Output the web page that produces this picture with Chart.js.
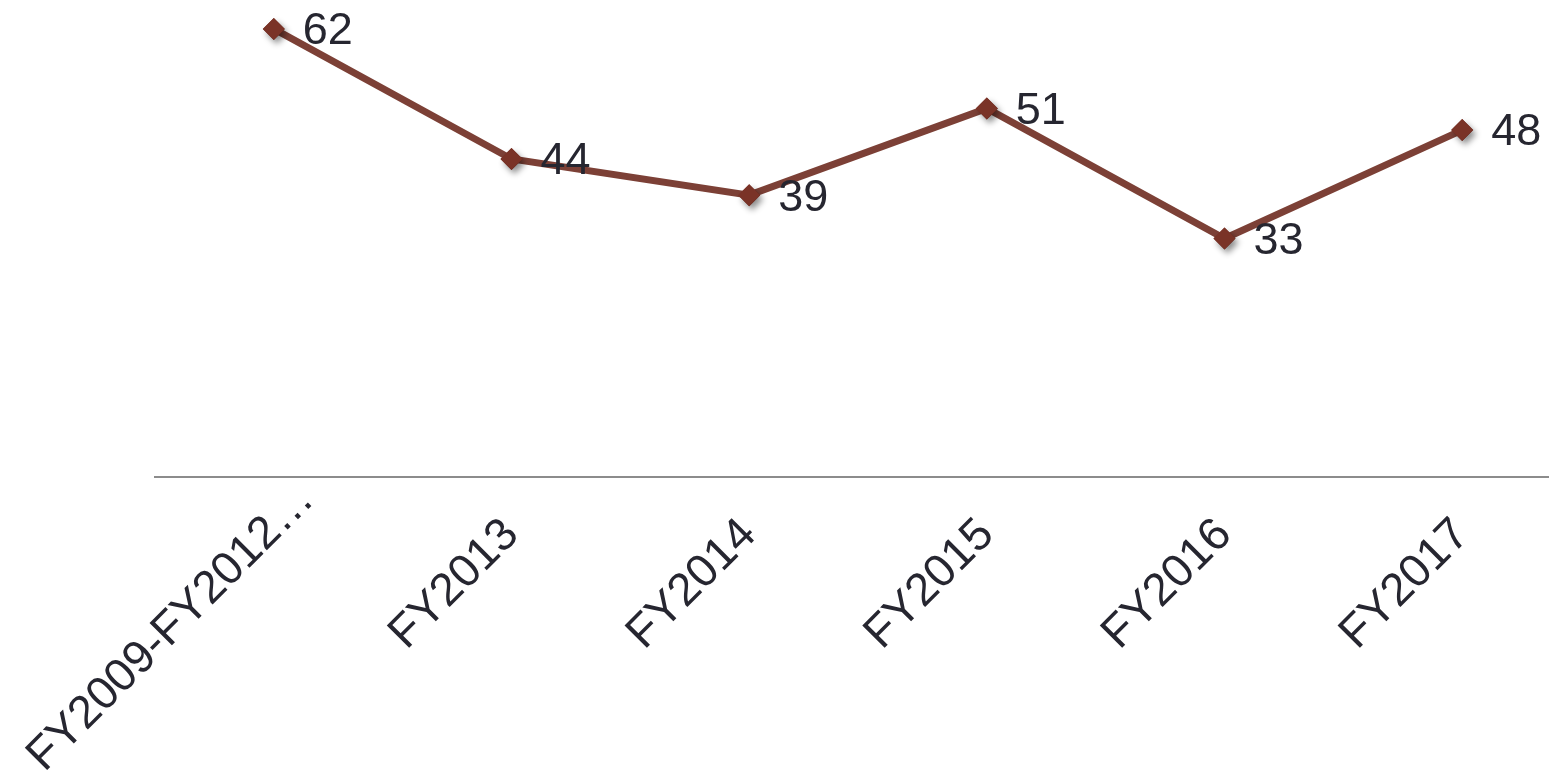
<!DOCTYPE html>
<html>
<head>
<meta charset="utf-8">
<script src="https://cdn.jsdelivr.net/npm/chart.js@4.4.0/dist/chart.umd.min.js"></script>
<style>
html,body{margin:0;padding:0;background:#fff;overflow:hidden;}
#wrap{position:relative;width:1600px;height:782px;}
</style>
</head>
<body>
<div id="wrap"><canvas id="trend"></canvas></div>
<script>
// ---- data ----
const years=['FY2009-FY2012…','FY2013','FY2014','FY2015','FY2016','FY2017'];
const counts=[62,44,39,51,33,48];

const LINE_COLOR='#7c4036', POINT_COLOR='#7a3327', TEXT_COLOR='#262630';
const FONT='"Liberation Sans", Arial, Helvetica, sans-serif';

// the long first label sits closer to the axis
const firstLabelNudge={
    id:'firstLabelNudge',
    beforeDraw(chart){
        const items=chart.scales.x.getLabelItems();
        if(items.length && !items[0]._nudged){
            const t=items[0].options.translation;
            t[0]+=33; t[1]-=35;
            items[0]._nudged=true;
        }
    }
};

// value labels to the right of each point
const valueLabels={
    id:'valueLabels',
    afterDatasetsDraw(chart){
        const ctx=chart.ctx;
        const meta=chart.getDatasetMeta(0);
        // redraw markers with a soft drop shadow
        ctx.save();
        ctx.shadowColor='rgba(0,0,0,0.45)';
        ctx.shadowBlur=6;
        ctx.shadowOffsetX=3;
        ctx.shadowOffsetY=4;
        meta.data.forEach(pt=>pt.draw(ctx,chart.chartArea));
        ctx.restore();

        ctx.save();
        ctx.font='45px '+FONT;
        ctx.fillStyle=TEXT_COLOR;
        ctx.textAlign='left';
        ctx.textBaseline='middle';
        meta.data.forEach((pt,i)=>{
            ctx.fillText(String(chart.data.datasets[0].data[i]),pt.x+29,pt.y+3);
        });
        ctx.restore();
    }
};

new Chart($('trend'),{
    type:'line',
    data:{
        labels:years,
        datasets:[{
            data:counts,
            borderColor:LINE_COLOR,
            borderWidth:7,
            tension:0,
            pointStyle:'rectRot',
            pointRadius:11,
            pointBackgroundColor:POINT_COLOR,
            pointBorderColor:POINT_COLOR,
            pointBorderWidth:0,
            clip:false
        }]
    },
    options:{
        responsive:true,
        maintainAspectRatio:false,
        animation:false,
        layout:{autoPadding:false,padding:{top:0,right:19,left:155,bottom:0}},
        plugins:{legend:{display:false},tooltip:{enabled:false}},
        scales:{
            x:{
                offset:true,
                grid:{display:false,drawTicks:false},
                border:{display:true,color:'#8c8c8c',width:2},
                ticks:{
                    autoSkip:false,
                    minRotation:45,maxRotation:45,
                    padding:31,
                    color:TEXT_COLOR,
                    font:{family:FONT,size:46}
                },
                // fixed label band; long labels may run off the bottom edge
                afterFit(s){ s.height=305; s.paddingLeft=0; s.paddingRight=0; }
            },
            y:{display:false,min:0,max:66}
        }
    },
    plugins:[firstLabelNudge,valueLabels]
});

function $(id){return document.getElementById(id);}
</script>
</body>
</html>
